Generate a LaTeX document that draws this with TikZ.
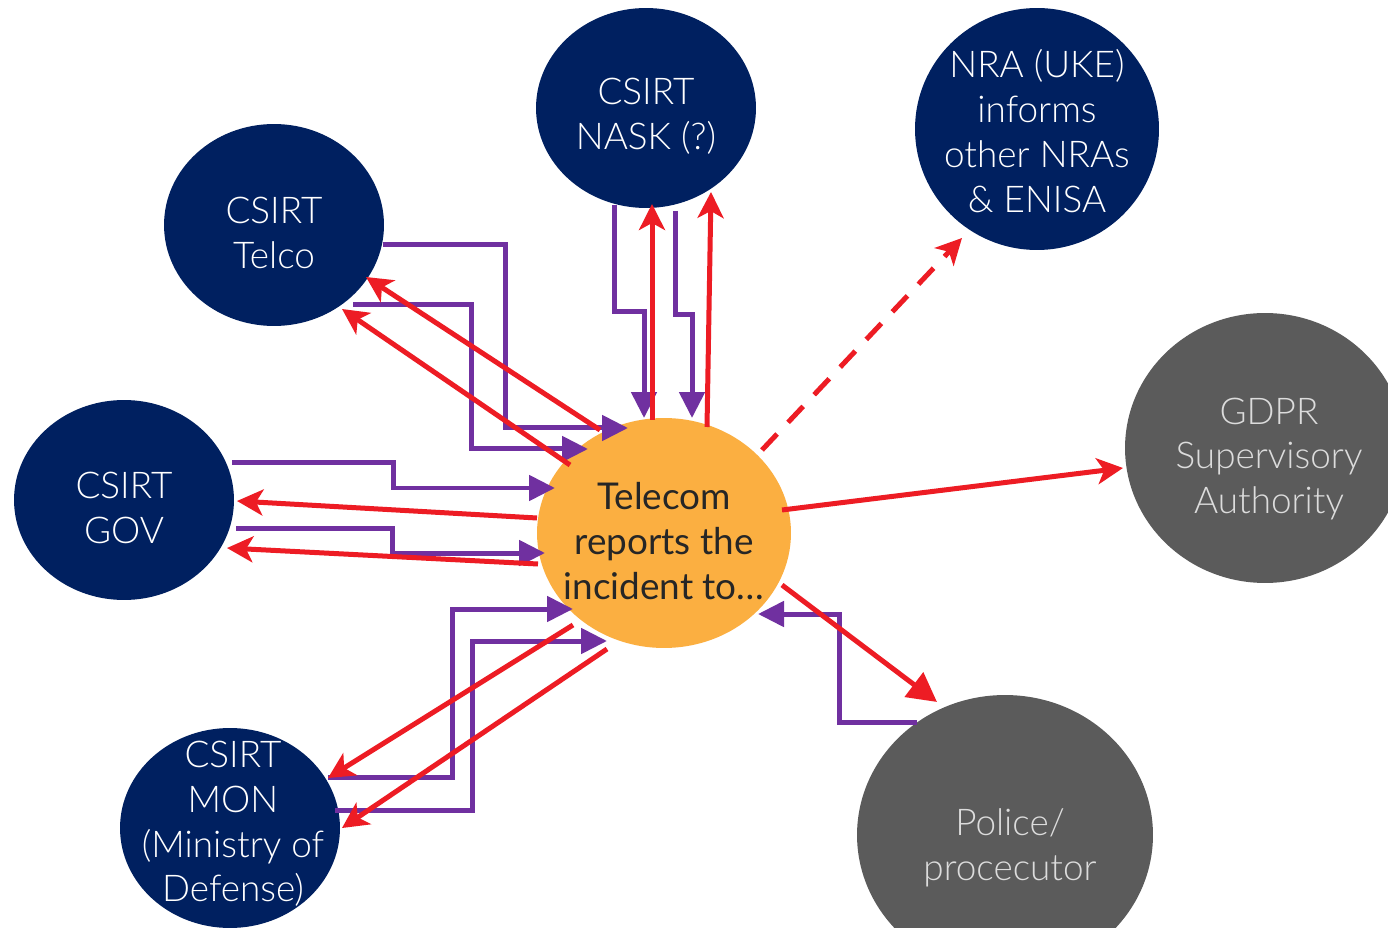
\documentclass[tikz,border=0pt]{standalone}
\usepackage{fontspec}
\setmainfont{Lato}
\IfFontExistsTF{Lato Light}{\newfontfamily\lightf{Lato Light}}{\newfontfamily\lightf{Lato}}
\usetikzlibrary{shapes.geometric,arrows.meta,calc}
\definecolor{navy}{HTML}{002060}
\definecolor{orng}{HTML}{FBAF41}
\definecolor{grayn}{HTML}{5B5B5B}
\definecolor{redc}{HTML}{ED1C24}
\definecolor{purp}{HTML}{7030A0}
\definecolor{darktxt}{HTML}{262626}
\definecolor{lighttxt}{HTML}{DCDCDC}
\begin{document}
\begin{tikzpicture}[x=0.02cm,y=-0.02cm,
  blob/.style={ellipse,inner sep=0pt},
  nv/.style={blob,fill=navy},
  gy/.style={blob,fill=grayn},
  og/.style={blob,fill=orng},
  txt/.style={align=center,inner sep=0pt,yshift=-0.16cm},
  nvt/.style={txt,text=white,font=\lightf\fontsize{21}{25.5}\selectfont},
  gyt/.style={txt,text=lighttxt,font=\lightf\fontsize{21}{25.5}\selectfont},
  ogt/.style={txt,text=darktxt,font=\fontsize{21}{25.5}\selectfont},
  pa/.style={draw=purp,line width=0.1cm,-{Triangle[length=0.52cm,width=0.5cm]}},
  ra/.style={draw=redc,line width=0.1cm,-{Stealth[length=0.52cm,width=0.52cm,inset=0.14cm]}},
  rt/.style={draw=redc,line width=0.1cm,-{Triangle[length=0.58cm,width=0.6cm]}},
]
\clip (0,0) rectangle (1388,928);
\fill[white] (0,0) rectangle (1388,928);

\node[nv,minimum width=4.4cm,minimum height=4.0cm] (nask) at (646,108) {};
\node[nvt] (nask-t) at (nask) {CSIRT\\NASK (?)};
\node[nv,minimum width=4.88cm,minimum height=4.84cm] (nra) at (1037,129) {};
\node[nvt] (nra-t) at ($(nra)+(0,-6)$) {NRA (UKE)\\informs\\other NRAs\\\& ENISA};
\node[nv,minimum width=4.4cm,minimum height=4.04cm] (telco) at (274,225) {};
\node[nvt] (telco-t) at (telco) {CSIRT\\Telco};
\node[nv,minimum width=4.4cm,minimum height=4.0cm] (gov) at (124,500) {};
\node[nvt] (gov-t) at (gov) {CSIRT\\GOV};
\node[nv,minimum width=4.4cm,minimum height=4.0cm] (mon) at (230,828) {};
\node[nvt] (mon-t) at ($(mon)+(3,-12)$) {CSIRT\\MON\\(Ministry of\\Defense)};
\node[og,minimum width=5.08cm,minimum height=4.6cm] (tel) at (664,533) {};
\node[ogt] (tel-t) at (tel) {Telecom\\reports the\\incident to\dots};
\node[gy,minimum width=5.6cm,minimum height=5.4cm] (gdpr) at (1265,448) {};
\node[gyt] (gdpr-t) at ($(gdpr)+(4,3)$) {GDPR\\Supervisory\\Authority};
\node[gy,minimum width=5.92cm,minimum height=5.6cm] (pol) at (1005,835) {};
\node[gyt] (pol-t) at ($(pol)+(5,5)$) {Police/\\procecutor};

% purple connectors
\draw[pa] ($(telco)+(109,20)$) -| (505,428) -- ($(tel)+(-36,-105)$);
\draw[pa] ($(telco)+(79,80)$) -| (471,449) -- ($(tel)+(-76,-84)$);
\draw[pa] ($(nask)+(-32,97)$) |- (644,312) -- ($(tel)+(-20,-115)$);
\draw[pa] ($(nask)+(29,103)$) |- (692,315) -- ($(tel)+(28,-115)$);
\draw[pa] ($(pol)+(-88,-113)$) -| (839,614) -- ($(tel)+(94,81)$);
\draw[pa] ($(gov)+(108,-37)$) -| (393,488) -- ($(tel)+(-109,-45)$);
\draw[pa] ($(gov)+(112,28)$) -| (392,553) -- ($(tel)+(-119,20)$);
\draw[pa] ($(mon)+(98,-51)$) -| (452,609) -- ($(tel)+(-91,76)$);
\draw[pa] ($(mon)+(105,-18)$) -| (472,641) -- ($(tel)+(-57,108)$);

% red connectors
\draw[ra] ($(tel)+(-64,-103)$) -- ($(telco)+(92,52)$);
\draw[ra] ($(tel)+(-94,-68)$) -- ($(telco)+(68,84)$);
\draw[ra] ($(tel)+(-12,-113)$) -- ($(nask)+(6,96)$);
\draw[ra] ($(tel)+(43,-106)$) -- ($(nask)+(65,84)$);
\draw[ra,dash pattern=on 0.44cm off 0.32cm] ($(tel)+(98,-83)$) -- ($(nra)+(-75,109)$);
\draw[ra] ($(tel)+(118,-23)$) -- ($(gdpr)+(-142,20)$);
\draw[rt] ($(tel)+(118,52)$) -- ($(pol)+(-68,-133)$);
\draw[ra] ($(tel)+(-127,-15)$) -- ($(gov)+(113,1)$);
\draw[ra] ($(tel)+(-126,31)$) -- ($(gov)+(103,48)$);
\draw[ra] ($(tel)+(-91,92)$) -- ($(mon)+(98,-50)$);
\draw[ra] ($(tel)+(-57,116)$) -- ($(mon)+(112,0)$);
\end{tikzpicture}
\end{document}
